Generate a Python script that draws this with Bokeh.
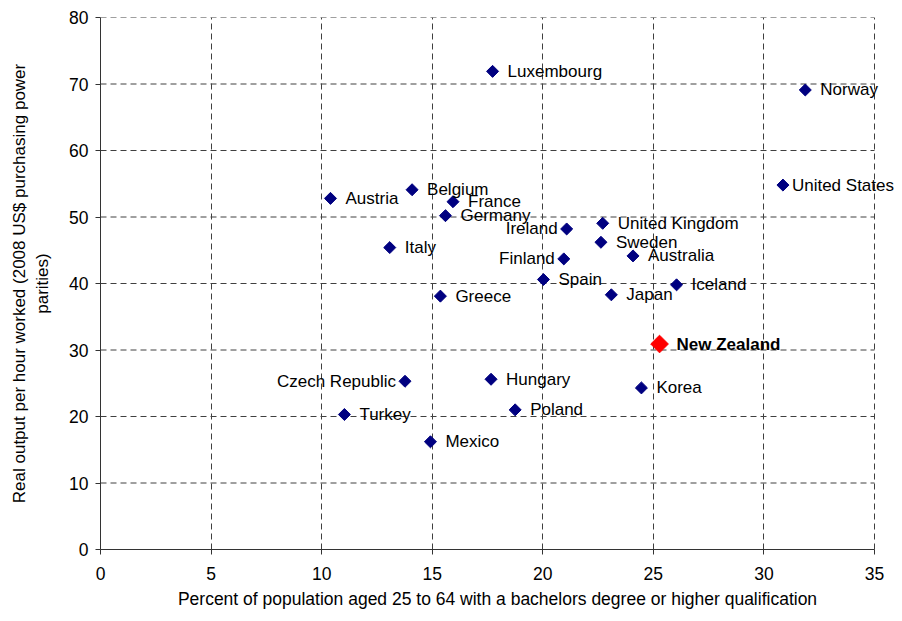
from bokeh.plotting import figure
from bokeh.models import ColumnDataSource, LabelSet, FixedTicker, LinearAxis
from bokeh.core.properties import value
from bokeh.embed import file_html
from bokeh.resources import INLINE
import math

# ---- data ----
countries = ["Austria", "Belgium", "France", "Germany", "Italy", "Greece", "Luxembourg",
             "Norway", "United States", "United Kingdom", "Ireland", "Sweden", "Finland",
             "Australia", "Spain", "Japan", "Iceland", "Hungary", "Korea", "Poland",
             "Czech Republic", "Turkey", "Mexico"]
education = [10.4, 14.09, 15.94, 15.6, 13.08, 15.37, 17.73,
             31.87, 30.86, 22.71, 21.08, 22.63, 20.95,
             24.08, 20.03, 23.1, 26.05, 17.66, 24.46, 18.75,
             13.77, 11.03, 14.92]
productivity = [52.8, 54.1, 52.3, 50.2, 45.4, 38.1, 71.9,
                69.1, 54.8, 49.05, 48.2, 46.2, 43.7,
                44.15, 40.6, 38.3, 39.8, 25.6, 24.3, 21.0,
                25.3, 20.3, 16.2]
left_labelled = ["Ireland", "Finland", "Czech Republic"]

nz_name = ["New Zealand"]
nz_education = [25.28]
nz_productivity = [30.9]

x_ticks = [0, 5, 10, 15, 20, 25, 30, 35]
y_ticks = [0, 10, 20, 30, 40, 50, 60, 70, 80]

x_title = "Percent of population aged 25 to 64 with a bachelors degree or higher qualification"
y_title_lines = ["Real output per hour worked (2008 US$ purchasing power", "parities)"]

# ---- styling ----
FONT = "Liberation Sans"
LBL_SIZE = "17px"
W, H = 894, 613
LEFT, TOP = 100, 17
PX_PER_UNIT = 774 / 35          # frame width for 0..35
X_END = (W - LEFT) / PX_PER_UNIT  # frame extends right so labels are not clipped
label_dx = {"United States": 9}

x_max, y_max = x_ticks[-1], y_ticks[-1]

r_names = [c for c in countries if c not in left_labelled]
l_names = [c for c in countries if c in left_labelled]
src_all = ColumnDataSource(dict(x=education, y=productivity, name=countries))
src_r = ColumnDataSource(dict(
    x=[education[countries.index(c)] for c in r_names],
    y=[productivity[countries.index(c)] for c in r_names],
    name=r_names,
    dx=[label_dx.get(c, 15) for c in r_names]))
src_l = ColumnDataSource(dict(
    x=[education[countries.index(c)] for c in l_names],
    y=[productivity[countries.index(c)] for c in l_names],
    name=l_names))
src_nz = ColumnDataSource(dict(x=nz_education, y=nz_productivity, name=nz_name))
src_hgrid = ColumnDataSource(dict(x0=[0] * len(y_ticks), x1=[x_max] * len(y_ticks),
                                  y=y_ticks))

p = figure(width=W, height=H, x_range=(0, X_END), y_range=(0, y_max),
           output_backend="svg", toolbar_location=None,
           min_border_left=LEFT, min_border_right=0, min_border_top=TOP,
           min_border_bottom=64)
p.outline_line_color = None
p.background_fill_color = "white"

GRID_COLOR = "#404040"
p.xgrid.ticker = FixedTicker(ticks=x_ticks)
p.xgrid.grid_line_color = GRID_COLOR
p.xgrid.grid_line_dash = "6 4"
p.xgrid.grid_line_width = 1
p.ygrid.visible = False
p.segment(x0="x0", x1="x1", y0="y", y1="y", source=src_hgrid,
          line_color=GRID_COLOR, line_dash="6 4", line_width=1)

p.scatter("x", "y", source=src_all, marker="square", angle=math.pi / 4, size=8.5,
          fill_color="#000080", line_color="#000080")
p.scatter("x", "y", source=src_nz, marker="square", angle=math.pi / 4, size=12.5,
          fill_color="#FF0000", line_color="#FF0000")

p.add_layout(LabelSet(x="x", y="y", text="name", source=src_r, x_offset="dx",
                      text_align="left", text_baseline="middle", text_font=value(FONT),
                      text_font_size=LBL_SIZE, text_color="black"))
p.add_layout(LabelSet(x="x", y="y", text="name", source=src_l, x_offset=-9,
                      text_align="right", text_baseline="middle", text_font=value(FONT),
                      text_font_size=LBL_SIZE, text_color="black"))
p.add_layout(LabelSet(x="x", y="y", text="name", source=src_nz, x_offset=17,
                      text_align="left", text_baseline="middle", text_font=value(FONT),
                      text_font_size=LBL_SIZE, text_font_style="bold", text_color="black"))

p.xaxis.ticker = FixedTicker(ticks=x_ticks)
p.yaxis.ticker = FixedTicker(ticks=y_ticks)
p.xaxis.bounds = (0, x_max)

for ax in (p.xaxis[0], p.yaxis[0]):
    ax.axis_line_color = "#333333"
    ax.axis_line_width = 1
    ax.major_tick_line_color = "#333333"
    ax.major_tick_out = 5
    ax.major_tick_in = 0
    ax.minor_tick_line_color = None
    ax.major_label_text_font = FONT
    ax.major_label_text_font_size = "17.5px"
    ax.major_label_text_color = "black"
    ax.axis_label_text_font = FONT
    ax.axis_label_text_font_style = "normal"
    ax.axis_label_text_color = "black"

p.xaxis.major_label_standoff = 12
p.xaxis.axis_label = x_title
p.xaxis.axis_label_text_font_size = "17.5px"
p.xaxis.axis_label_standoff = 6

p.yaxis.major_label_standoff = 7
p.yaxis.axis_label = y_title_lines[1]
p.yaxis.axis_label_text_font_size = "17px"
p.yaxis.axis_label_standoff = 14

outer = LinearAxis(ticker=FixedTicker(ticks=[]), axis_label=y_title_lines[0],
                   axis_line_color=None, major_tick_line_color=None,
                   minor_tick_line_color=None, major_label_text_font_size="0px",
                   axis_label_text_font=FONT, axis_label_text_font_size="17px",
                   axis_label_text_font_style="normal", axis_label_text_color="black",
                   axis_label_standoff=2)
p.add_layout(outer, "left")

open("out.html", "w").write(file_html(p, INLINE))
